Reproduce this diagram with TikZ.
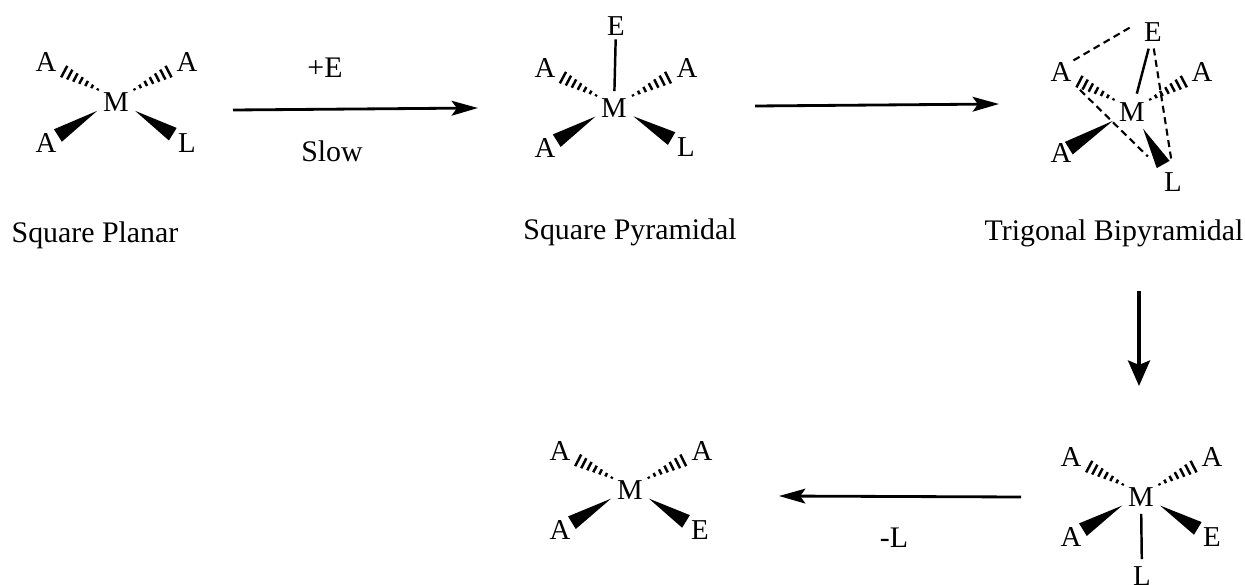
\documentclass[tikz,border=0pt]{standalone}
\usepackage{fontspec}
\setmainfont{Liberation Serif}
\usetikzlibrary{arrows.meta,calc,positioning}

\newcommand{\hashbond}[2]{%
  \coordinate (hs) at ($(#1)+(0,-3)$);
  \foreach \i in {0,...,6}{
    \pgfmathsetmacro{\hpos}{.26+\i*.08}
    \pgfmathsetmacro{\hlen}{.6+\i*.52}
    \coordinate (hp) at ($(hs)!\hpos!(#2)$);
    \draw[hashline] ($(hp)!\hlen pt!90:(#2)$) -- ($(hp)!\hlen pt!-90:(#2)$);
  }
}
\newcommand{\wedgebond}[3][.83]{%
  \coordinate (ws) at ($(#2)+(0,-3)$);
  \coordinate (wa) at ($(ws)!.27!(#3)$);
  \coordinate (wb) at ($(ws)!#1!(#3)$);
  \fill (wa) -- ($(wb)!4.2pt!90:(#3)$) -- ($(wb)!4.2pt!-90:(#3)$) -- cycle;
}

\begin{document}
\begin{tikzpicture}[
    x=0.02cm, y=-0.02cm,
    atom/.style={inner sep=1pt, text depth=0pt, font=\fontsize{16.4}{18}\selectfont},
    caption/.style={inner sep=0pt, text depth=0pt, font=\fontsize{17}{20}\selectfont},
    hashline/.style={line width=1.4pt},
    bondline/.style={line width=1.4pt},
    dashline/.style={line width=1.2pt, dash pattern=on 4pt off 2.6pt},
    reaction/.style={line width=1.6pt, -{Stealth[length=15pt, width=8.4pt, inset=3pt]}},
    reactiondown/.style={line width=2.2pt, -{Stealth[length=14.5pt, width=12.5pt, inset=2.5pt]}}
]
\useasboundingbox (0,0) rectangle (1245,585);

% square planar
\node[atom] (M1) at (116,102) {M};
\node[atom] (A1a) at (46,62) {A};
\node[atom] (A1b) at (187,62) {A};
\node[atom] (A1c) at (46,143) {A};
\node[atom] (L1) at (187,143) {L};
\hashbond{M1}{A1a}
\hashbond{M1}{A1b}
\wedgebond{M1}{A1c}
\wedgebond[.80]{M1}{L1}
\node[caption] (planar) at (95,232) {Square Planar};

% first step
\coordinate (r1s) at (233,110);
\coordinate (r1e) at (478,108);
\draw[reaction] (r1s) -- (r1e);
\node[caption] (plusE) at (325,68) {+E};
\node[caption] (slow) at (332,151) {Slow};

% square pyramidal
\node[atom] (M2) at (614,108) {M};
\node[atom] (A2a) at (545,68) {A};
\node[atom] (A2b) at (687,68) {A};
\node[atom] (A2c) at (545,148) {A};
\node[atom] (L2) at (686,147) {L};
\node[atom] (E2) at (616,26) {E};
\hashbond{M2}{A2a}
\hashbond{M2}{A2b}
\wedgebond{M2}{A2c}
\wedgebond[.80]{M2}{L2}
\draw[bondline, shorten <=1pt, shorten >=3pt] (E2) -- (M2);
\node[caption] (pyramidal) at (630,229) {Square Pyramidal};

% second step
\coordinate (r2s) at (755,106);
\coordinate (r2e) at (999,104);
\draw[reaction] (r2s) -- (r2e);

% trigonal bipyramidal
\node[atom] (M3) at (1132,112) {M};
\node[atom] (A3a) at (1061,72) {A};
\node[atom] (A3b) at (1202,72) {A};
\node[atom] (A3c) at (1061,153) {A};
\node[atom] (L3) at (1173,182) {L};
\node[atom] (E3) at (1153,32) {E};
\hashbond{M3}{A3a}
\hashbond{M3}{A3b}
\wedgebond[.89]{M3}{A3c}
\wedgebond[.76]{M3}{L3}
\draw[bondline, shorten <=3pt, shorten >=4pt] (E3) -- (M3);
\draw[dashline, shorten >=0.26cm] (A3a.north east) -- (E3.north west);
\draw[dashline, shorten <=0.1cm, shorten >=0.16cm] (E3.south) -- (L3.north);
\draw[dashline, shorten <=0.18cm, shorten >=0.4cm] (A3a.south east) -- (L3.north west);
\node[caption] (bipyramidal) at (1114,230) {Trigonal Bipyramidal};

% third step
\coordinate (r3s) at (1139,291);
\coordinate (r3e) at (1139,386);
\draw[reactiondown] (r3s) -- (r3e);

% axial intermediate
\node[atom] (M5) at (1141,497) {M};
\node[atom] (A5a) at (1071,457) {A};
\node[atom] (A5b) at (1212,457) {A};
\node[atom] (A5c) at (1071,537) {A};
\node[atom] (E5) at (1212,537) {E};
\node[atom] (L5) at (1142,576) {L};
\hashbond{M5}{A5a}
\hashbond{M5}{A5b}
\wedgebond{M5}{A5c}
\wedgebond[.80]{M5}{E5}
\draw[bondline, shorten <=3pt, shorten >=3pt] (M5) -- (L5);

% last step
\coordinate (r4s) at (1021,497);
\coordinate (r4e) at (779,496);
\draw[reaction] (r4s) -- (r4e);
\node[caption] (minusL) at (894,538) {-L};

% product
\node[atom] (M4) at (630,490) {M};
\node[atom] (A4a) at (560,451) {A};
\node[atom] (A4b) at (702,451) {A};
\node[atom] (A4c) at (560,530) {A};
\node[atom] (E4) at (700,530) {E};
\hashbond{M4}{A4a}
\hashbond{M4}{A4b}
\wedgebond{M4}{A4c}
\wedgebond[.80]{M4}{E4}
\end{tikzpicture}
\end{document}
